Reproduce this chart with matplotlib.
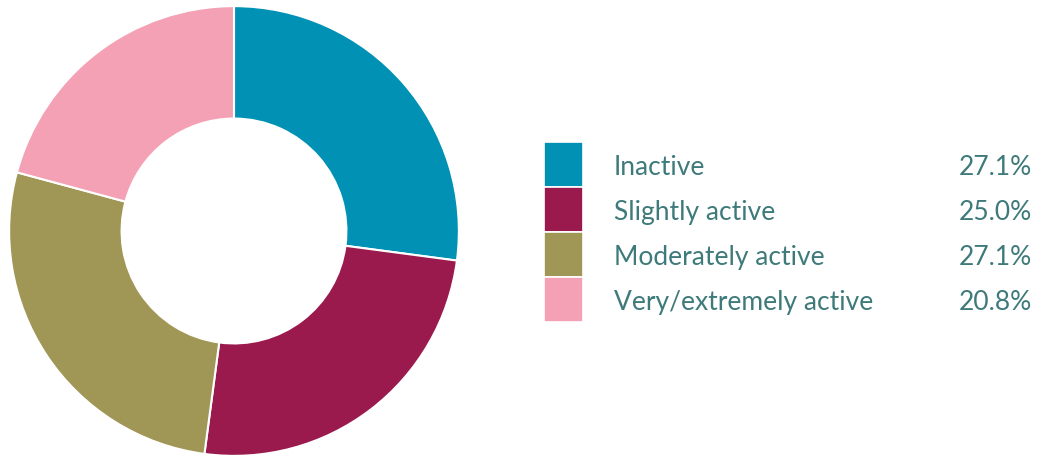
import matplotlib.pyplot as plt

labels = ['Inactive', 'Slightly active', 'Moderately active', 'Very/extremely active']
values = [27.1, 25.0, 27.1, 20.8]
pct_labels = ['27.1%', '25.0%', '27.1%', '20.8%']
colors = ['#0091b4', '#9a1a4e', '#a09656', '#f4a1b5']
text_color = '#3f7a7a'

W, H = 1038, 457
fig = plt.figure(figsize=(W / 100, H / 100), dpi=100)

# donut, placed in pixel terms
ax = fig.add_axes([8 / W, 0 / H, 452 / W, 452 / H])
ax.pie(values, colors=colors, startangle=90, counterclock=False,
       wedgeprops=dict(width=0.5, edgecolor='white', linewidth=1.5))
ax.set_xlim(-1.005, 1.005)
ax.set_ylim(-1.005, 1.005)
ax.set_aspect('equal')

# legend table
lg = fig.add_axes([544 / W, (H - 322) / H, 494 / W, 180 / H])
lg.set_xlim(0, 494)
lg.set_ylim(len(labels), 0)
lg.axis('off')
for i, (lab, pct, c) in enumerate(zip(labels, pct_labels, colors)):
    lg.barh(i + 0.5, 39, height=1, left=0, color=c, edgecolor='white', linewidth=1.2)
    lg.text(70, i + 0.56, lab, ha='left', va='center', fontsize=19,
            color=text_color, family='Lato')
    lg.text(488, i + 0.56, pct, ha='right', va='center', fontsize=19,
            color=text_color, family='Lato')

fig.savefig('out.png', dpi=100)
